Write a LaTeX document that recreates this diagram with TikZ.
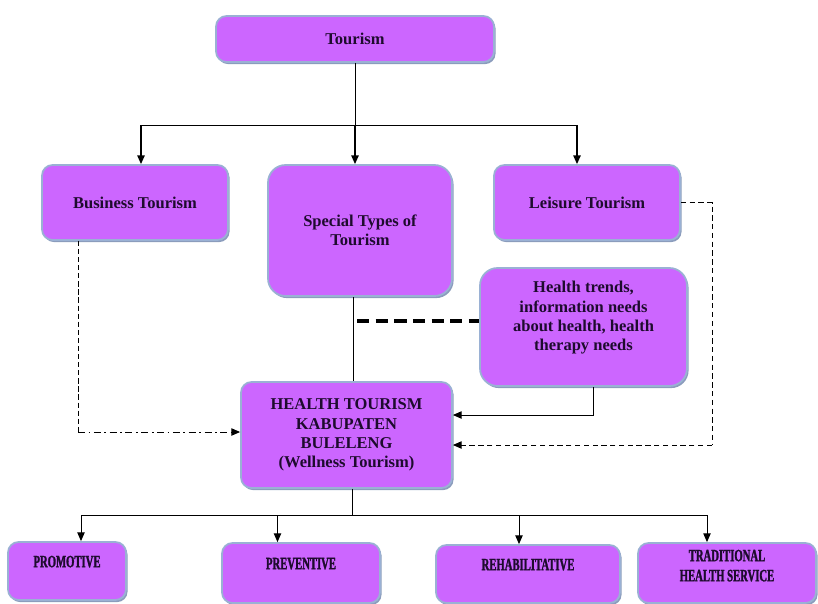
\documentclass[tikz,border=0pt]{standalone}
\usepackage{fontspec}
\setmainfont{Liberation Serif}
\newfontfamily\narrowserif[FakeStretch=0.62,FakeBold=1.6]{Liberation Serif Bold}
\usepackage{tikz}
\usetikzlibrary{arrows.meta,positioning,calc,shadows}
\definecolor{Orchid}{HTML}{CC66FF}
\definecolor{EdgeBlue}{HTML}{9AB1D4}
\definecolor{ShadeBlue}{HTML}{8B9CBC}
\definecolor{InkDark}{HTML}{1E0B2E}

\begin{document}
\begin{tikzpicture}[
    every node/.style={font=\fontsize{9.4}{11}\selectfont\bfseries,text=InkDark},
    box/.style={draw=EdgeBlue,fill=Orchid,line width=1pt,rounded corners=6pt,align=center,inner sep=0pt,
      drop shadow={shadow xshift=0.9pt,shadow yshift=-1.2pt,fill=ShadeBlue,opacity=1}},
    bigbox/.style={box,rounded corners=10pt},
    lowbox/.style={box,text depth=0.38cm,font=\fontsize{9.8}{11.4}\selectfont\narrowserif},
    arr/.style={-{Triangle[length=5pt,width=4.2pt]},line width=0.55pt},
    thickarr/.style={arr,line width=0.85pt},
    line/.style={line width=0.55pt}
  ]
    \useasboundingbox (0,0) rectangle (16.36,-12.06);
    % boxes
    \node[box,minimum width=5.56cm,minimum height=0.92cm] (tourism) at (7.10,-0.78) {Tourism};
    \node[box,minimum width=3.72cm,minimum height=1.5cm] (business) at (2.70,-4.05) {Business Tourism};
    \node[bigbox,minimum width=3.68cm,minimum height=2.62cm] (special) at (7.20,-4.61) {Special Types of\\Tourism};
    \node[box,minimum width=3.72cm,minimum height=1.5cm] (leisure) at (11.74,-4.05) {Leisure Tourism};
    \node[bigbox,minimum width=4.14cm,minimum height=2.36cm,text depth=0.43cm] (trends) at (11.67,-6.54)
      {Health trends,\\information needs\\about health, health\\therapy needs};
    \node[box,minimum width=4.22cm,minimum height=2.12cm] (health) at (6.93,-8.70)
      {HEALTH TOURISM\\KABUPATEN\\BULELENG\\(Wellness Tourism)};
    \node[lowbox,minimum width=2.36cm,minimum height=1.16cm] (promo) at (1.34,-11.42) {PROMOTIVE};
    \node[lowbox,minimum width=3.16cm,minimum height=1.2cm] (prevent) at (6.02,-11.46) {PREVENTIVE};
    \node[lowbox,minimum width=3.68cm,minimum height=1.16cm] (rehab) at (10.56,-11.48) {REHABILITATIVE};
    \node[lowbox,minimum width=3.56cm,minimum height=1.2cm,text depth=0.3cm] (trad) at (14.54,-11.46) {TRADITIONAL\\HEALTH SERVICE};
    % corner points
    \coordinate (topL) at (2.82,-2.50);
    \coordinate (topR) at (11.54,-2.50);
    \coordinate (topM) at (tourism.south |- topL);
    \coordinate (spine) at (7.06,-6.42);
    \coordinate (bcorner) at (1.56,-8.64);
    \coordinate (tcorner) at (11.86,-8.30);
    \coordinate (lcorner) at (14.24,-8.90);
    \coordinate (botM) at (7.04,-10.30);
    \coordinate (botA) at (1.62,-10.30);
    \coordinate (botB) at (5.55,-10.30);
    \coordinate (botC) at (10.38,-10.30);
    \coordinate (botD) at (14.14,-10.30);
    % top split
    \draw[line] (tourism.south) -- (topM);
    \draw[line] (topL) -- (topR);
    \draw[thickarr] (topM) -- (topM |- special.north);
    \draw[thickarr] (topL) -- (topL |- business.north);
    \draw[thickarr] (topR) -- (topR |- leisure.north);
    % middle
    \draw[line] (spine |- special.south) -- (spine |- health.north);
    \draw[line width=2.4pt,dash pattern=on 7pt off 3.6pt] ($(spine)+(0.08,0)$) -- (spine -| trends.west);
    \draw[arr] (tcorner |- trends.south) -- (tcorner) -- (tcorner -| health.east);
    \draw[line,dash pattern=on 3pt off 2pt] (leisure.east) -- (leisure.east -| lcorner) -- (lcorner);
    \draw[arr,dash pattern=on 3pt off 2pt] (lcorner) -- (lcorner -| health.east);
    \draw[line,dash pattern=on 3pt off 1.6pt] (bcorner |- business.south) -- (bcorner);
    \draw[arr,dash pattern=on 4pt off 2pt on 1pt off 2pt] (bcorner) -- (bcorner -| health.west);
    % bottom split
    \draw[line] (botM |- health.south) -- (botM);
    \draw[line] (botA) -- (botD);
    \draw[arr] (botA) -- (botA |- promo.north);
    \draw[arr] (botB) -- (botB |- prevent.north);
    \draw[arr] (botC) -- (botC |- rehab.north);
    \draw[arr] (botD) -- (botD |- trad.north);
  \end{tikzpicture}
\end{document}
